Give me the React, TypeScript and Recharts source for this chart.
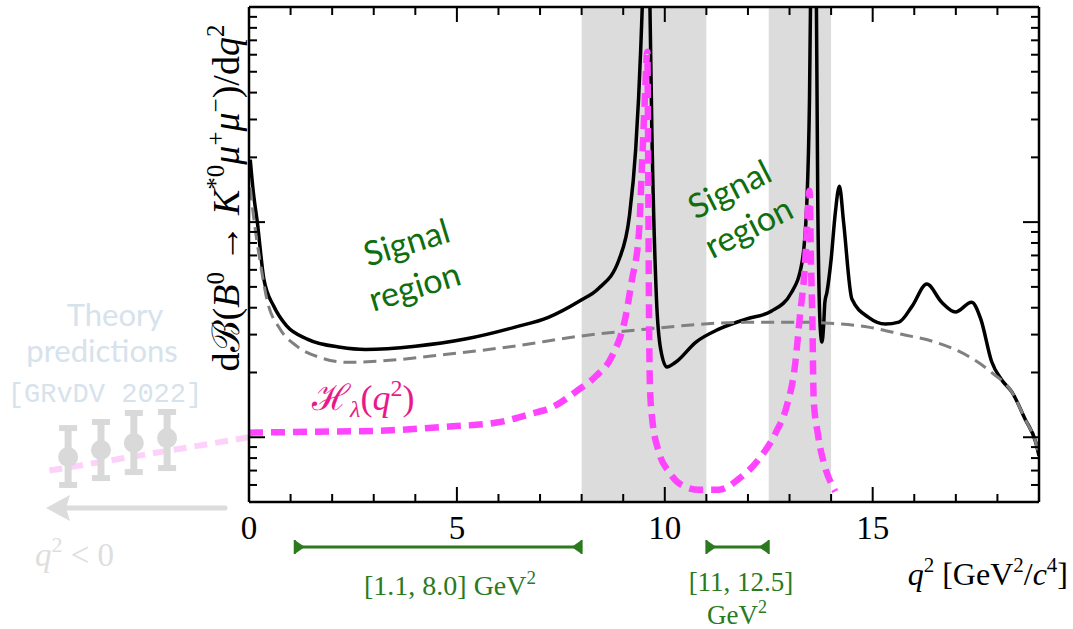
import React from 'react';
import { LineChart, Line, XAxis, YAxis, ReferenceArea, ReferenceLine, ReferenceDot } from 'recharts';

const W = 1073;
const H = 629;
const PLOT = { left: 249, right: 1039, top: 7, bottom: 502 };
const SERIF = "'Liberation Serif', 'DejaVu Serif', serif";
const HAND = "Lato, 'Open Sans', sans-serif";

// total dB/dq2 (black)
const totalRate = [
  { q: 0.03, v: 19.5 }, { q: 0.1, v: 14 }, { q: 0.2, v: 10 }, { q: 0.36, v: 5.4 },
  { q: 0.6, v: 4.05 }, { q: 0.9, v: 3.3 }, { q: 1.4, v: 2.86 }, { q: 2.2, v: 2.62 },
  { q: 2.8, v: 2.56 }, { q: 4.0, v: 2.65 }, { q: 5.2, v: 2.86 }, { q: 6.4, v: 3.25 },
  { q: 7.2, v: 3.61 }, { q: 7.95, v: 4.3 }, { q: 8.4, v: 4.9 }, { q: 8.9, v: 6.7 },
  { q: 9.15, v: 10.7 }, { q: 9.3, v: 21.8 }, { q: 9.42, v: 63 }, { q: 9.5, v: 200 },
  { q: 9.56, v: 1000 }, { q: 9.62, v: 200 }, { q: 9.69, v: 26 }, { q: 9.8, v: 4.4 },
  { q: 9.9, v: 2.57 }, { q: 10.05, v: 2.12 }, { q: 10.26, v: 2.23 }, { q: 10.75, v: 2.77 },
  { q: 11.3, v: 3.18 }, { q: 11.95, v: 3.54 }, { q: 12.57, v: 3.86 }, { q: 13.05, v: 4.72 },
  { q: 13.3, v: 6.5 }, { q: 13.42, v: 12.8 }, { q: 13.48, v: 37 }, { q: 13.53, v: 300 },
  { q: 13.58, v: 1000 }, { q: 13.63, v: 300 }, { q: 13.68, v: 12 }, { q: 13.74, v: 3.2 },
  { q: 13.78, v: 2.77 }, { q: 13.82, v: 3.3 }, { q: 13.85, v: 4.24 }, { q: 13.9, v: 4.72 },
  { q: 14.0, v: 6.7 }, { q: 14.1, v: 11 }, { q: 14.2, v: 14.7 }, { q: 14.3, v: 10 },
  { q: 14.5, v: 4.39 }, { q: 14.9, v: 3.61 }, { q: 15.3, v: 3.36 }, { q: 15.63, v: 3.43 },
  { q: 15.95, v: 4.07 }, { q: 16.3, v: 5.15 }, { q: 16.66, v: 4.24 }, { q: 16.99, v: 3.82 },
  { q: 17.38, v: 4.24 }, { q: 17.6, v: 3.54 }, { q: 17.86, v: 2.25 }, { q: 18.1, v: 1.85 },
  { q: 18.35, v: 1.62 }, { q: 18.67, v: 1.21 }, { q: 18.92, v: 0.95 }, { q: 19.0, v: 0.82 },
];

// prediction without non-local contributions (grey dashed)
const shortDistance = [
  { q: 0.03, v: 14.5 }, { q: 0.1, v: 11 }, { q: 0.27, v: 6.5 }, { q: 0.43, v: 4.38 },
  { q: 0.75, v: 3.18 }, { q: 1.15, v: 2.65 }, { q: 1.7, v: 2.35 }, { q: 2.35, v: 2.23 },
  { q: 3.15, v: 2.26 }, { q: 4.76, v: 2.43 }, { q: 6.37, v: 2.65 }, { q: 7.96, v: 2.95 },
  { q: 9.54, v: 3.18 }, { q: 11.95, v: 3.42 }, { q: 13.54, v: 3.42 }, { q: 13.94, v: 3.39 },
  { q: 14.9, v: 3.25 }, { q: 15.7, v: 3.01 }, { q: 16.5, v: 2.77 }, { q: 17.3, v: 2.38 },
  { q: 17.86, v: 2.0 }, { q: 18.35, v: 1.62 }, { q: 18.67, v: 1.21 }, { q: 18.92, v: 0.95 },
  { q: 19.0, v: 0.83 },
];

// H_lambda(q2) (magenta dashed)
const hLambda = [
  { q: 0.0, v: 1.05 }, { q: 1.5, v: 1.06 }, { q: 3.0, v: 1.07 }, { q: 4.76, v: 1.12 },
  { q: 5.96, v: 1.17 }, { q: 6.75, v: 1.28 }, { q: 7.33, v: 1.39 }, { q: 7.88, v: 1.64 },
  { q: 8.34, v: 1.92 }, { q: 8.73, v: 2.38 }, { q: 9.06, v: 3.66 }, { q: 9.2, v: 5.26 },
  { q: 9.38, v: 9.0 }, { q: 9.45, v: 18 }, { q: 9.52, v: 37 }, { q: 9.58, v: 62 },
  { q: 9.6, v: 20 }, { q: 9.62, v: 4 }, { q: 9.64, v: 1.8 }, { q: 9.69, v: 1.25 },
  { q: 9.86, v: 0.85 }, { q: 10.1, v: 0.69 }, { q: 10.4, v: 0.6 }, { q: 10.82, v: 0.57 },
  { q: 11.3, v: 0.57 }, { q: 11.78, v: 0.64 }, { q: 12.26, v: 0.79 }, { q: 12.67, v: 1.05 },
  { q: 12.93, v: 1.39 }, { q: 13.13, v: 2.14 }, { q: 13.25, v: 3.66 }, { q: 13.37, v: 6.25 },
  { q: 13.45, v: 12 }, { q: 13.48, v: 14 }, { q: 13.52, v: 6 }, { q: 13.55, v: 3.5 },
  { q: 13.58, v: 1.5 }, { q: 13.68, v: 1.04 }, { q: 13.85, v: 0.73 }, { q: 14.04, v: 0.59 },
  { q: 14.1, v: 0.56 },
];

const signalBands = [[8, 11], [12.5, 14]];
const binRanges = [[1.1, 8.0], [11, 12.5]];
const binRowValue = 0.309;

// faded theory points at q2 < 0
const theoryPoints = [
  { q: -4.35, v: 0.809, lo: 0.6, hi: 1.103 },
  { q: -3.56, v: 0.872, lo: 0.646, hi: 1.177 },
  { q: -2.77, v: 0.94, lo: 0.689, hi: 1.296 },
  { q: -1.97, v: 0.991, lo: 0.719, hi: 1.31 },
];
const fadedExtension = [{ q: -4.8, v: 0.7 }, { q: 0, v: 1.0 }];

const xTicks = [0, 1, 2, 3, 4, 5, 6, 7, 8, 9, 10, 11, 12, 13, 14, 15, 16, 17, 18, 19];
const xLabels = [0, 5, 10, 15];
const yTicks = [0.5, 0.6, 0.7, 0.8, 0.9, 1, 2, 3, 4, 5, 6, 7, 8, 9, 10, 20, 30, 40, 50, 60, 70, 80, 90, 100];
const yMajor = [1, 10, 100];

const isMajorY = (v: number) => yMajor.some((m) => Math.abs(m - v) < 1e-9);

function BottomTick(props: any) {
  const { x, payload } = props;
  const major = xLabels.includes(payload.value);
  return (
    <g>
      <line x1={x} x2={x} y1={PLOT.bottom} y2={PLOT.bottom - (major ? 15 : 8)} stroke="#000" strokeWidth={2} />
      {major && (
        <text x={x} y={539} textAnchor="middle" fontSize={33} fontFamily={SERIF} fill="#000">
          {payload.value}
        </text>
      )}
    </g>
  );
}

function TopTick(props: any) {
  const { x, payload } = props;
  const major = xLabels.includes(payload.value);
  return <line x1={x} x2={x} y1={PLOT.top} y2={PLOT.top + (major ? 15 : 8)} stroke="#000" strokeWidth={2} />;
}

function LeftTick(props: any) {
  const { y, payload } = props;
  const len = isMajorY(payload.value) ? 16 : 8;
  return <line x1={PLOT.left} x2={PLOT.left + len} y1={y} y2={y} stroke="#000" strokeWidth={2} />;
}

function RightTick(props: any) {
  const { y, payload } = props;
  const len = isMajorY(payload.value) ? 16 : 8;
  return <line x1={PLOT.right} x2={PLOT.right - len} y1={y} y2={y} stroke="#000" strokeWidth={2} />;
}

function RangeShape(props: any) {
  const { x1, x2, y1 } = props;
  const c = '#2b7a1e';
  return (
    <g>
      <line x1={x1} x2={x2} y1={y1} y2={y1} stroke={c} strokeWidth={3} />
      <line x1={x1} x2={x1} y1={y1 - 7} y2={y1 + 7} stroke={c} strokeWidth={2} />
      <line x1={x2} x2={x2} y1={y1 - 7} y2={y1 + 7} stroke={c} strokeWidth={2} />
      <polygon points={`${x1},${y1 - 7} ${x1 + 10},${y1} ${x1},${y1 + 7}`} fill={c} />
      <polygon points={`${x2},${y1 - 7} ${x2 - 10},${y1} ${x2},${y1 + 7}`} fill={c} />
    </g>
  );
}

function ErrorShape(props: any) {
  const { x1, y1, y2 } = props;
  const c = '#d9d9d9';
  return (
    <g>
      <line x1={x1} x2={x1} y1={y1} y2={y2} stroke={c} strokeWidth={7} />
      <line x1={x1 - 9} x2={x1 + 9} y1={y1} y2={y1} stroke={c} strokeWidth={6} />
      <line x1={x1 - 9} x2={x1 + 9} y1={y2} y2={y2} stroke={c} strokeWidth={6} />
    </g>
  );
}

const axisLine = { stroke: '#000', strokeWidth: 2.5 };

export default function App() {
  return (
    <div style={{ position: 'absolute', left: 0, top: 0, width: W, height: H, background: '#fff' }}>
      <LineChart
        width={W}
        height={H}
        margin={{ top: PLOT.top - 1, right: W - PLOT.right - 1, bottom: H - PLOT.bottom - 1, left: PLOT.left - 1 }}
      >
        <XAxis
          dataKey="q"
          type="number"
          domain={[0, 19]}
          ticks={xTicks}
          interval={0}
          allowDataOverflow
          height={1}
          tickLine={false}
          axisLine={axisLine}
          tick={(p: any) => <BottomTick {...p} />}
        />
        <XAxis
          xAxisId="top"
          orientation="top"
          dataKey="q"
          type="number"
          domain={[0, 19]}
          ticks={xTicks}
          interval={0}
          allowDataOverflow
          height={1}
          tickLine={false}
          axisLine={axisLine}
          tick={(p: any) => <TopTick {...p} />}
        />
        <YAxis
          type="number"
          scale="log"
          domain={[0.5, 100]}
          ticks={yTicks}
          interval={0}
          allowDataOverflow
          width={1}
          tickLine={false}
          axisLine={axisLine}
          tick={(p: any) => <LeftTick {...p} />}
        />
        <YAxis
          yAxisId="right"
          orientation="right"
          type="number"
          scale="log"
          domain={[0.5, 100]}
          ticks={yTicks}
          interval={0}
          allowDataOverflow
          width={1}
          tickLine={false}
          axisLine={axisLine}
          tick={(p: any) => <RightTick {...p} />}
        />
        {signalBands.map(([a, b]) => (
          <ReferenceArea key={`band-${a}`} x1={a} x2={b} fill="#dcdcdc" fillOpacity={1} stroke="none" />
        ))}
        <ReferenceLine
          segment={fadedExtension.map((p) => ({ x: p.q, y: p.v }))}
          ifOverflow="visible"
          stroke="#fcd2fa"
          strokeWidth={6}
          strokeDasharray="13 8"
        />
        {theoryPoints.map((p) => (
          <ReferenceLine
            key={`err-${p.q}`}
            segment={[{ x: p.q, y: p.hi }, { x: p.q, y: p.lo }]}
            ifOverflow="visible"
            shape={(s: any) => <ErrorShape {...s} />}
          />
        ))}
        {theoryPoints.map((p) => (
          <ReferenceDot key={`pt-${p.q}`} x={p.q} y={p.v} r={10} fill="#d9d9d9" stroke="none" ifOverflow="visible" />
        ))}
        {binRanges.map(([a, b]) => (
          <ReferenceLine
            key={`bin-${a}`}
            segment={[{ x: a, y: binRowValue }, { x: b, y: binRowValue }]}
            ifOverflow="visible"
            shape={(s: any) => <RangeShape {...s} />}
          />
        ))}
        <Line data={totalRate} dataKey="v" type="monotone" stroke="#000" strokeWidth={3.5} dot={false} isAnimationActive={false} />
        <Line data={shortDistance} dataKey="v" type="monotone" stroke="#808080" strokeWidth={3} strokeDasharray="13 7" dot={false} isAnimationActive={false} />
        <Line data={hLambda} dataKey="v" type="monotone" stroke="#ff44ff" strokeWidth={6.5} strokeDasharray="14 8" dot={false} isAnimationActive={false} />
      </LineChart>
      <svg width={W} height={H} style={{ position: 'absolute', left: 0, top: 0, pointerEvents: 'none' }}>
        {/* y axis title */}
        <text transform="translate(239,198) rotate(-90)" textAnchor="middle" fontSize={38} fontFamily={SERIF} fill="#000">
          dℬ(<tspan fontStyle="italic">B</tspan>
          <tspan fontSize={25} dy={-15}>0</tspan>
          <tspan dy={15}> → </tspan>
          <tspan fontStyle="italic">K</tspan>
          <tspan fontSize={25} dy={-15}>*0</tspan>
          <tspan dy={15} fontStyle="italic">μ</tspan>
          <tspan fontSize={25} dy={-15}>+</tspan>
          <tspan dy={15} fontStyle="italic">μ</tspan>
          <tspan fontSize={25} dy={-15}>−</tspan>
          <tspan dy={15}>)/d</tspan>
          <tspan fontStyle="italic">q</tspan>
          <tspan fontSize={25} dy={-15}>2</tspan>
        </text>
        {/* x axis title */}
        <text x={1068} y={585} textAnchor="end" fontSize={32} fontFamily={SERIF} fill="#000">
          <tspan fontStyle="italic">q</tspan>
          <tspan fontSize={21} dy={-13}>2</tspan>
          <tspan dy={13}> [GeV</tspan>
          <tspan fontSize={21} dy={-13}>2</tspan>
          <tspan dy={13}>/</tspan>
          <tspan fontStyle="italic">c</tspan>
          <tspan fontSize={21} dy={-13}>4</tspan>
          <tspan dy={13}>]</tspan>
        </text>
        {/* bin labels */}
        <text x={450} y={595} textAnchor="middle" fontSize={28} fontFamily={SERIF} fill="#2b7a1e">
          [1.1, 8.0] GeV<tspan fontSize={19} dy={-11}>2</tspan>
        </text>
        <text x={741} y={591} textAnchor="middle" fontSize={27} fontFamily={SERIF} fill="#2b7a1e">[11, 12.5]</text>
        <text x={737} y={624} textAnchor="middle" fontSize={27} fontFamily={SERIF} fill="#2b7a1e">
          GeV<tspan fontSize={18} dy={-11}>2</tspan>
        </text>
        {/* signal region notes */}
        <g fontFamily={HAND} fontSize={34} fill="#0f6e0f">
          <text transform="translate(410,254) rotate(-17)" textAnchor="middle">Signal</text>
          <text transform="translate(418,298) rotate(-17)" textAnchor="middle">region</text>
          <text transform="translate(735,200) rotate(-27)" textAnchor="middle">Signal</text>
          <text transform="translate(754,238) rotate(-27)" textAnchor="middle">region</text>
        </g>
        {/* H_lambda label */}
        <text x={312} y={410} fontSize={36} fontFamily={SERIF} fill="#e8198b">
          ℋ<tspan fontStyle="italic" fontSize={24} dy={7}>λ</tspan>
          <tspan dy={-7}>(</tspan>
          <tspan fontStyle="italic">q</tspan>
          <tspan fontSize={24} dy={-14}>2</tspan>
          <tspan dy={14}>)</tspan>
        </text>
        {/* faded theory note */}
        <g fill="#d6e2ec">
          <text x={115} y={326} textAnchor="middle" fontSize={31} fontFamily={HAND}>Theory</text>
          <text x={102} y={362} textAnchor="middle" fontSize={31} fontFamily={HAND}>predictions</text>
          <text x={105} y={402} textAnchor="middle" fontSize={27} fontFamily="'Liberation Mono', monospace">[GRvDV 2022]</text>
        </g>
        <line x1={225} x2={62} y1={508} y2={508} stroke="#dcdcdc" strokeWidth={5} strokeLinecap="round" />
        <polygon points="46,508 70,495 66,508 70,521" fill="#dcdcdc" />
        <text x={35} y={566} fontSize={33} fontFamily={SERIF} fill="#dedede">
          <tspan fontStyle="italic">q</tspan>
          <tspan fontSize={22} dy={-14}>2</tspan>
          <tspan dy={14}> &lt; 0</tspan>
        </text>
      </svg>
    </div>
  );
}
